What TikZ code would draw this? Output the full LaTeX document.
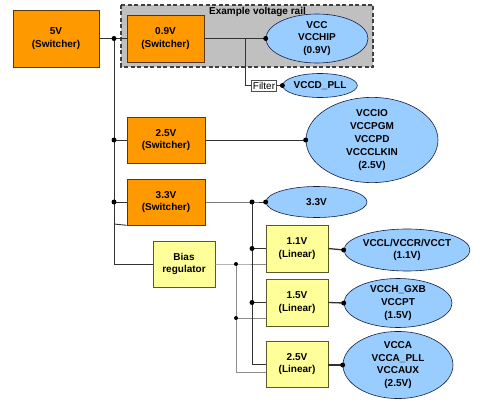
\documentclass[tikz,border=0pt]{standalone}
\usepackage{fontspec}
\setmainfont{Liberation Sans}
\usetikzlibrary{shapes.geometric,calc}
\definecolor{orng}{RGB}{255,153,0}
\definecolor{orngb}{RGB}{90,55,10}
\definecolor{lblue}{RGB}{153,204,255}
\definecolor{lblueb}{RGB}{20,30,70}
\definecolor{lyel}{RGB}{255,255,153}
\definecolor{lyelb}{RGB}{90,90,40}
\definecolor{rail}{RGB}{192,192,192}
\definecolor{wire}{RGB}{50,50,50}
\begin{document}
\begin{tikzpicture}[x=1pt,y=-1pt,
  txt/.style={font=\fontsize{10}{12.8}\selectfont\bfseries, align=center, inner sep=0pt},
  swbox/.style={txt, rectangle, draw=orngb, fill=orng, line width=0.6pt},
  linbox/.style={txt, rectangle, draw=lyelb, fill=lyel, line width=0.6pt},
  load/.style={txt, ellipse, draw=lblueb, fill=lblue, line width=0.6pt},
  wireline/.style={draw=wire, line width=0.9pt},
  thin/.style={draw=black!45, line width=0.6pt},
  dot/.style={circle, fill=black, inner sep=0pt, minimum size=5pt}]
\useasboundingbox (0,0) rectangle (500,401);
% example rail region
\draw[fill=rail, draw=black!75, dashed, dash pattern=on 4pt off 2.5pt, line width=1.2pt] (121,5) rectangle (373,67);
\node[txt] (raillabel) at (257.5,12) {Example voltage rail};
% nodes
\node[swbox, minimum width=86pt, minimum height=57pt] (v5) at (56,38.5) {5V\\(Switcher)};
\node[swbox, minimum width=77pt, minimum height=47pt] (v09) at (165.5,38.5) {0.9V\\(Switcher)};
\node[load, minimum width=102pt, minimum height=48pt] (vcc) at (317,38.5) {VCC\\VCCHIP\\(0.9V)};
\node[rectangle, draw=black!70, fill=white, line width=0.5pt, font=\fontsize{10}{12}\selectfont, inner xsep=1.2pt, inner ysep=0.5pt, minimum height=11pt] (filter) at (264,85.5) {Filter};
\node[load, minimum width=74pt, minimum height=24pt] (pll) at (320,85.5) {VCCD\_PLL};
\node[swbox, minimum width=78pt, minimum height=46pt] (v25s) at (166,140) {2.5V\\(Switcher)};
\node[load, minimum width=132pt, minimum height=71pt] (vccio) at (372,140) {VCCIO\\VCCPGM\\VCCPD\\VCCCLKIN\\(2.5V)};
\node[swbox, minimum width=78pt, minimum height=46pt] (v33s) at (166,202) {3.3V\\(Switcher)};
\node[load, minimum width=101pt, minimum height=31pt] (e33) at (316.5,202) {3.3V};
\node[linbox, minimum width=62pt, minimum height=46pt] (bias) at (184,264) {Bias\\regulator};
\node[linbox, minimum width=62pt, minimum height=47pt] (l11) at (297,248.5) {1.1V\\(Linear)};
\node[linbox, minimum width=62pt, minimum height=47pt] (l15) at (297,302.5) {1.5V\\(Linear)};
\node[linbox, minimum width=62pt, minimum height=46pt] (l25) at (297,364) {2.5V\\(Linear)};
\node[load, minimum width=126pt, minimum height=42pt] (e11) at (407,250) {VCCL/VCCR/VCCT\\(1.1V)};
\node[load, minimum width=108pt, minimum height=43pt] (e15) at (398,303) {VCCH\_GXB\\VCCPT\\(1.5V)};
\node[load, minimum width=110pt, minimum height=54pt] (e25) at (398,365) {VCCA\\VCCA\_PLL\\VCCAUX\\(2.5V)};
% junction coordinates
\coordinate (j1) at (114,38.5);
\coordinate (j25) at (114,140);
\coordinate (j33) at (114,202);
\coordinate (jstub) at (114,224);
\coordinate (jbias) at (114,264);
\coordinate (jf) at (245,38.5);
\coordinate (jfb) at (245,85.5);
\coordinate (k33) at (252,202);
\coordinate (k11) at (252,248.5);
\coordinate (k15) at (252,302.5);
\coordinate (k25) at (252,364);
\coordinate (g0) at (236,264);
\coordinate (g15) at (236,318);
\coordinate (g25) at (236,372);
\coordinate (g11e) at (266,264);
\coordinate (g15e) at (266,318);
\coordinate (g25e) at (266,372);
% gray bias wires
\draw[thin] (bias.east |- g0) -- (g0) -- (g11e);
\draw[thin] (g0) -- (g25) -- (g25e);
\draw[thin] (g15) -- (g15e);
% main wires
\draw[wireline] (v5.east |- j1) -- (j1) -- (v09.west |- j1);
\draw[wireline] (v09.east |- jf) -- (vcc.west);
\draw[wireline] (jf) -- (jfb) -- (filter.west);
\draw[wireline] (filter.east) -- (pll.west);
\draw[wireline] (j1) -- (jbias) -- (bias.west);
\draw[wireline] (jstub) -- (v33s.south west);
\draw[wireline] (j25) -- (v25s.west);
\draw[wireline] (j33) -- (v33s.west);
\draw[wireline] (v25s.east) -- (vccio.west);
\draw[wireline] (v33s.east) -- (k33) -- (e33.west);
\draw[wireline] (k33) -- (k25) -- (l25.west |- k25);
\draw[wireline] (k11) -- (l11.west);
\draw[wireline] (k15) -- (l15.west);
\draw[wireline, line width=1.3pt] (l11.east) -- (e11.west);
\draw[wireline, line width=1.3pt] (l15.east) -- (e15.west);
\draw[wireline, line width=1.3pt] (l25.east |- e25.west) -- (e25.west);
% dots
\foreach \p in {j1,j25,j33,k33,k11,k15}
  \node[dot] at (\p) {};
\node[dot] at (vcc.west) {};
\node[dot] at (pll.west) {};
\node[dot] at (vccio.west) {};
\node[dot] at (e33.west) {};
\node[dot] at (e11.west) {};
\node[dot] at (e15.west) {};
\node[dot] at (e25.west) {};
\node[dot, minimum size=4pt] at (g0) {};
\node[dot, minimum size=4pt] at (g15) {};
\end{tikzpicture}
\end{document}
